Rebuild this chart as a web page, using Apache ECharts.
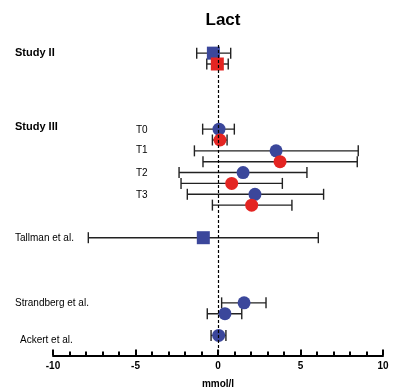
<!DOCTYPE html>
<html><head><meta charset="utf-8">
<script src="https://cdn.jsdelivr.net/npm/echarts@6/dist/echarts.min.js"></script>
<style>html,body{margin:0;padding:0;background:#fff}#c{width:395px;height:391px}</style>
</head><body><div id="c"></div>
<script>
// Row positions (0 = top) and values: [row, mean, low, high]
var blueSquares = [[0, -0.28, -1.29, 0.77], [17, -0.89, -7.86, 6.08]];
var redSquares  = [[1, -0.04, -0.68, 0.62]];
var blueCircles = [[7, 0.06, -0.93, 0.99], [9, 3.52, -1.43, 8.5], [11, 1.52, -2.36, 5.39], [13, 2.24, -1.86, 6.4],
                   [23, 1.58, 0.22, 2.91], [24, 0.42, -0.65, 1.44], [26, 0.04, -0.42, 0.48]];
var redCircles  = [[8, 0.12, -0.34, 0.55], [10, 3.76, -0.91, 8.44], [12, 0.83, -2.24, 3.9], [14, 2.04, -0.34, 4.48]];
// [text, row, bold, left]
var studyLabels = [["Study II", 0, true, 15], ["Study III", 6.76, true, 15], ["T0", 7.06, false, 136], ["T1", 8.9, false, 136],
                   ["T2", 11.1, false, 136], ["T3", 13.1, false, 136], ["Tallman et al.", 17.04, false, 15],
                   ["Strandberg et al.", 23.03, false, 15], ["Ackert et al.", 26.45, false, 20]];
var xTicks = [-10, -5, 0, 5, 10];

var BLUE = '#3b479b', RED = '#e42522';
var allRows = blueSquares.concat(redSquares, blueCircles, redCircles);

function pts(arr){ return arr.map(function(d){ return [d[1], d[0]]; }); }

var chart = echarts.init(document.getElementById('c'));
chart.setOption({
  animation: false,
  title: { text: 'Lact', left: 218, top: 7, textAlign: 'center',
           textStyle: { fontFamily: 'Liberation Sans, Arial', fontWeight: 'bold', fontSize: 17, color: '#000' } },
  grid: { left: 53, right: 12, top: 45, bottom: 35.5, containLabel: false, outerBoundsMode: 'none' },
  xAxis: {
    type: 'value', min: -10, max: 10, interval: 5, position: 'bottom',
    axisLine: { onZero: false, lineStyle: { color: '#000', width: 2 } },
    axisTick: { inside: true, length: 6, lineStyle: { color: '#000', width: 2 } },
    minorTick: { show: true, splitNumber: 5, length: 4, lineStyle: { color: '#000', width: 2 } },
    splitLine: { show: false },
    axisLabel: { fontFamily: 'Liberation Sans, Arial', fontWeight: 'bold', fontSize: 10, color: '#000', margin: 6,
                 formatter: function(v){ return xTicks.indexOf(v) >= 0 ? String(v) : ''; } },
    name: 'mmol/l', nameLocation: 'middle', nameGap: 24,
    nameTextStyle: { fontFamily: 'Liberation Sans, Arial', fontWeight: 'bold', fontSize: 10, color: '#000' }
  },
  yAxis: { type: 'value', min: -0.75, max: 27.85, inverse: true, show: false },
  series: [
    {
      type: 'custom', z: 1,
      data: allRows.map(function(d){ return [d[2], d[3], d[0]]; }),
      renderItem: function(params, api){
        var lo = api.coord([api.value(0), api.value(2)]);
        var hi = api.coord([api.value(1), api.value(2)]);
        var h = 5.5;
        var st = { stroke: '#222', lineWidth: 1.4 };
        return { type: 'group', children: [
          { type: 'line', shape: { x1: lo[0], y1: lo[1], x2: hi[0], y2: hi[1] }, style: st },
          { type: 'line', shape: { x1: lo[0], y1: lo[1]-h, x2: lo[0], y2: lo[1]+h }, style: st },
          { type: 'line', shape: { x1: hi[0], y1: hi[1]-h, x2: hi[0], y2: hi[1]+h }, style: st }
        ]};
      }
    },
    { type: 'scatter', z: 3, symbol: 'rect', symbolSize: 13, itemStyle: { color: BLUE, opacity: 1 }, data: pts(blueSquares),
      markLine: { silent: true, symbol: 'none', label: { show: false },
                  lineStyle: { color: '#000', type: [3, 2], width: 1.2 }, data: [{ xAxis: 0 }] } },
    { type: 'scatter', z: 3, symbol: 'rect', symbolSize: 13, itemStyle: { color: RED, opacity: 1 }, data: pts(redSquares) },
    { type: 'scatter', z: 3, symbol: 'circle', symbolSize: 13, itemStyle: { color: BLUE, opacity: 1 }, data: pts(blueCircles) },
    { type: 'scatter', z: 3, symbol: 'circle', symbolSize: 13, itemStyle: { color: RED, opacity: 1 }, data: pts(redCircles) }
  ]
});

var g = studyLabels.map(function(l){
  var y = chart.convertToPixel({ gridIndex: 0 }, [0, l[1]])[1];
  return { type: 'text', x: l[3], y: y,
           style: { text: l[0], fill: '#000', verticalAlign: 'middle', textVerticalAlign: 'middle',
                    font: (l[2] ? 'bold 11px' : '10px') + ' "Liberation Sans", Arial' } };
});
chart.setOption({ graphic: g });
</script>
</body></html>
